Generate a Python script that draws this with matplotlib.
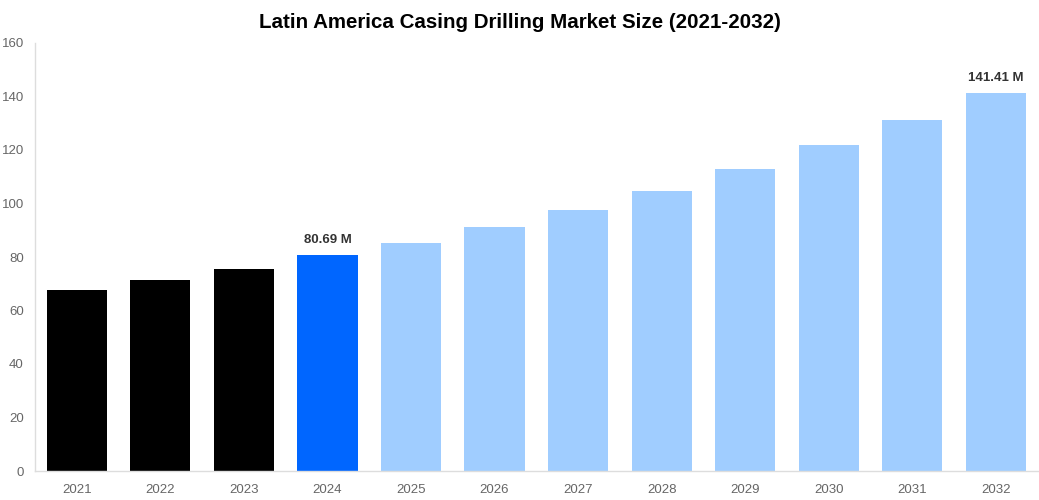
import matplotlib
matplotlib.use("Agg")
import matplotlib.pyplot as plt

years = ["2021", "2022", "2023", "2024", "2025", "2026", "2027", "2028", "2029", "2030", "2031", "2032"]
values = [67.7, 71.4, 75.7, 80.69, 85.4, 91.2, 97.6, 104.7, 112.9, 121.9, 131.4, 141.41]
colors = ["#000000"] * 3 + ["#0066ff"] + ["#a0cdff"] * 8
labels = {3: "80.69 M", 11: "141.41 M"}
yticks = [0, 20, 40, 60, 80, 100, 120, 140, 160]

plt.rcParams['font.family'] = ['Liberation Sans', 'DejaVu Sans']

fig = plt.figure(figsize=(10.39, 5.0), dpi=100)
ax = fig.add_axes([0.0337, 0.058, 0.965, 0.856])

x = list(range(len(years)))
ax.bar(x, values, width=0.72, color=colors)
for i, t in labels.items():
    ax.annotate(t, (i, values[i]), xytext=(0, 6.5), textcoords="offset points",
                ha="center", va="bottom", fontsize=9.5, fontweight="bold", color="#333333")

ax.set_xlim(-0.5, len(years) - 0.5)
ax.set_ylim(0, 160)
ax.set_yticks(yticks)
ax.set_xticks(x)
ax.set_xticklabels(years)
ax.tick_params(axis="both", length=0, labelsize=9.5, labelcolor="#666666")
ax.tick_params(axis="x", pad=9.5)
ax.tick_params(axis="y", pad=8)
for s in ["top", "right"]:
    ax.spines[s].set_visible(False)
for s in ["left", "bottom"]:
    ax.spines[s].set_color("#dddddd")
    ax.spines[s].set_linewidth(1)

fig.suptitle("Latin America Casing Drilling Market Size (2021-2032)", x=0.5, y=0.975,
             fontsize=14.8, fontweight="bold", color="#000000")

fig.savefig("out.png", dpi=100)
